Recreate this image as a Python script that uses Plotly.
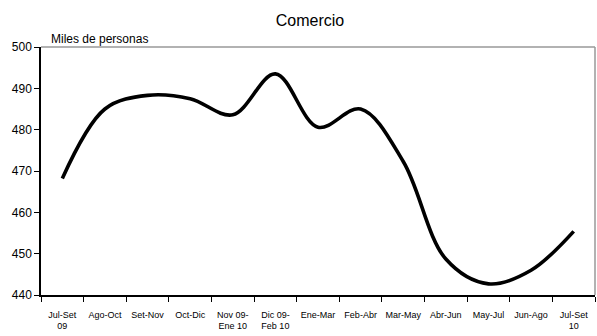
import plotly.graph_objects as go

categories = ["Jul-Set<br>09", "Ago-Oct", "Set-Nov", "Oct-Dic", "Nov 09-<br>Ene 10", "Dic 09-<br>Feb 10",
              "Ene-Mar", "Feb-Abr", "Mar-May", "Abr-Jun", "May-Jul", "Jun-Ago", "Jul-Set<br>10"]
values = [468.2, 485.0, 488.3, 487.5, 483.6, 493.5, 480.6, 485.0, 472.3, 448.7, 442.7, 446.0, 455.4]
y_ticks = [440, 450, 460, 470, 480, 490, 500]

fig = go.Figure()
fig.add_trace(go.Scatter(
    x=categories, y=values, mode="lines",
    line=dict(color="black", width=3.6, shape="spline", smoothing=1.0),
    hoverinfo="skip", showlegend=False,
))

font = "Liberation Sans, Arial"
fig.update_layout(
    width=597, height=336,
    margin=dict(l=41, r=2, t=47, b=41, autoexpand=False),
    paper_bgcolor="white", plot_bgcolor="white",
    title=dict(text="Comercio", x=310 / 597, xanchor="center", xref="container",
               y=1 - 20 / 336, yanchor="middle", yref="container",
               font=dict(family=font, size=16, color="black")),
    xaxis=dict(
        type="category", tickson="boundaries", ticks="outside", ticklen=5, tickcolor="black",
        showline=True, linecolor="black", linewidth=1.5, showgrid=False, zeroline=False,
        tickfont=dict(family=font, size=9, color="black"), tickangle=0,
        range=[-0.5, 12.5], automargin=False, ticklabelstandoff=10,
    ),
    yaxis=dict(
        range=[440, 500], tickvals=y_ticks, ticks="outside", ticklen=5, tickcolor="black",
        showline=True, linecolor="black", linewidth=1.5, showgrid=False, zeroline=False,
        tickfont=dict(family=font, size=12, color="black"), automargin=False,
    ),
    annotations=[dict(text="Miles de personas", xref="paper", yref="paper", x=0.014, y=1.0,
                      xanchor="left", yanchor="bottom", yshift=-1, showarrow=False,
                      font=dict(family=font, size=12, color="black"))],
    shapes=[
        dict(type="line", xref="paper", yref="paper", x0=0, x1=1, y0=1, y1=1,
             line=dict(color="#999999", width=1.5)),
        dict(type="line", xref="paper", yref="paper", x0=1, x1=1, y0=0, y1=1,
             line=dict(color="#999999", width=1.5)),
    ],
)

fig.write_html("out.html", config={"displayModeBar": False},
               post_script="document.body.style.margin='0';document.body.style.overflow='hidden';")
